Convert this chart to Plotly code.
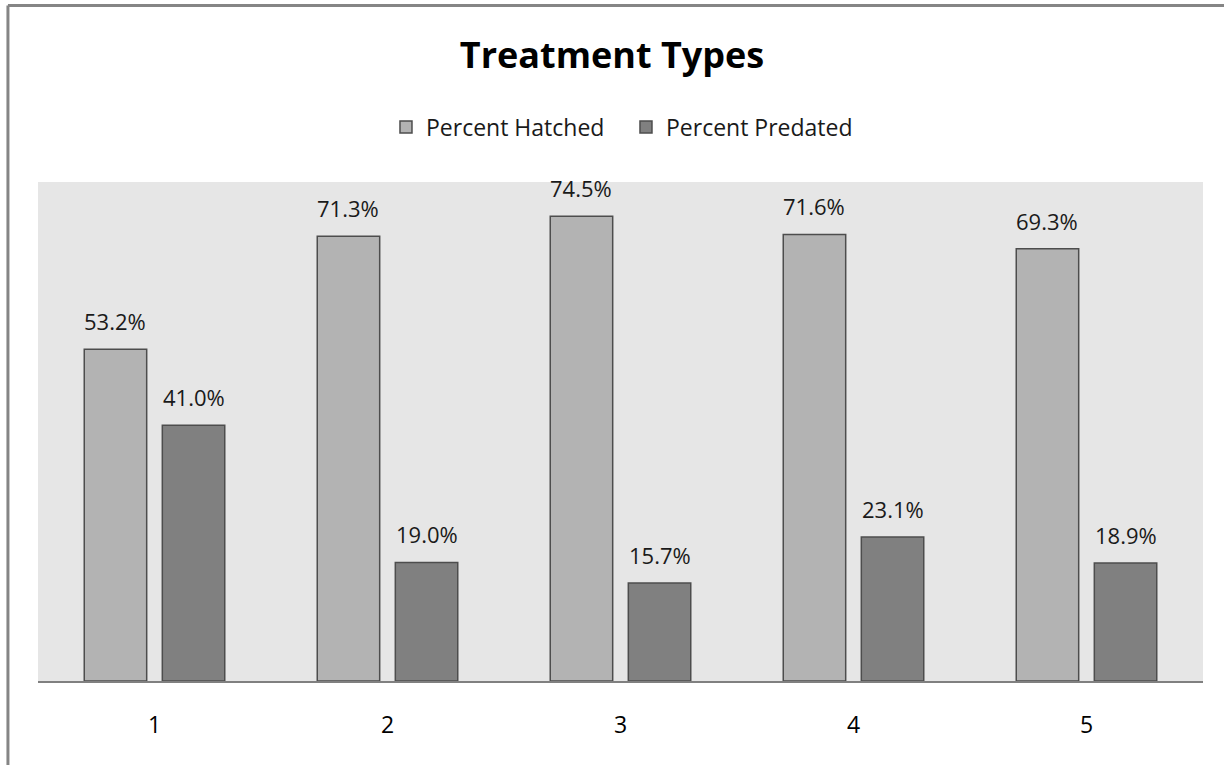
import plotly.graph_objects as go

categories = [1, 2, 3, 4, 5]
tick_labels = ["1", "2", "3", "4", "5"]
hatched = [53.2, 71.3, 74.5, 71.6, 69.3]
predated = [41.0, 19.0, 15.7, 23.1, 18.9]
series_names = ["Percent Hatched", "Percent Predated"]
series_colors = ["#b3b3b3", "#808080"]

FONT = "'Open Sans', sans-serif"
bargap = 0.33

fig = go.Figure()
for name, vals, col in zip(series_names, [hatched, predated], series_colors):
    fig.add_trace(go.Bar(
        x=categories, y=vals, name=name,
        marker=dict(color=col, line=dict(color="#4d4d4d", width=1.5)),
    ))

# value labels above bars
slot = (1 - bargap) / 2
for k, vals in enumerate([hatched, predated]):
    off = (k - 0.5) * slot
    for c, v in zip(categories, vals):
        fig.add_annotation(
            x=c + off, y=v, text=f"{v:.1f}%", showarrow=False,
            yanchor="bottom", yshift=11,
            font=dict(family=FONT, size=22, color="#1a1a1a"),
        )

# frame lines (top and left)
fig.add_shape(type="line", xref="paper", yref="paper",
              x0=-0.0258, x1=1.05, y0=1.3537, y1=1.3537,
              line=dict(color="#858585", width=3))
fig.add_shape(type="line", xref="paper", yref="paper",
              x0=-0.0258, x1=-0.0258, y0=-0.2, y1=1.3537,
              line=dict(color="#858585", width=3))

fig.update_layout(
    width=1224, height=765,
    margin=dict(l=38, r=21, t=182, b=84),
    paper_bgcolor="white", plot_bgcolor="#e6e6e6",
    barmode="group", bargap=bargap, bargroupgap=0.2,
    title=dict(text="<b>Treatment Types</b>", x=0.5, xanchor="center",
               y=0.927, yanchor="middle",
               font=dict(family=FONT, size=36, color="black")),
    legend=dict(orientation="h", x=0.2987, xanchor="left", y=1.11, yanchor="middle",
                font=dict(family=FONT, size=23, color="#1a1a1a"),
                entrywidth=195, entrywidthmode="pixels",
                bgcolor="rgba(0,0,0,0)", itemclick=False),
    showlegend=True,
    font=dict(family=FONT),
)
fig.update_xaxes(range=[0.5, 5.5], tickvals=categories, ticktext=tick_labels,
                 showgrid=False, zeroline=False, showline=True, linecolor="#808080",
                 linewidth=1.5, ticks="outside", ticklen=23, tickcolor="rgba(0,0,0,0)",
                 tickfont=dict(family=FONT, size=23, color="black"))
fig.update_yaxes(range=[0, 80], showgrid=False, zeroline=False, showticklabels=False,
                 showline=False)

fig.write_html("out.html", post_script="document.body.style.margin='0';",
               config={"displayModeBar": False})
